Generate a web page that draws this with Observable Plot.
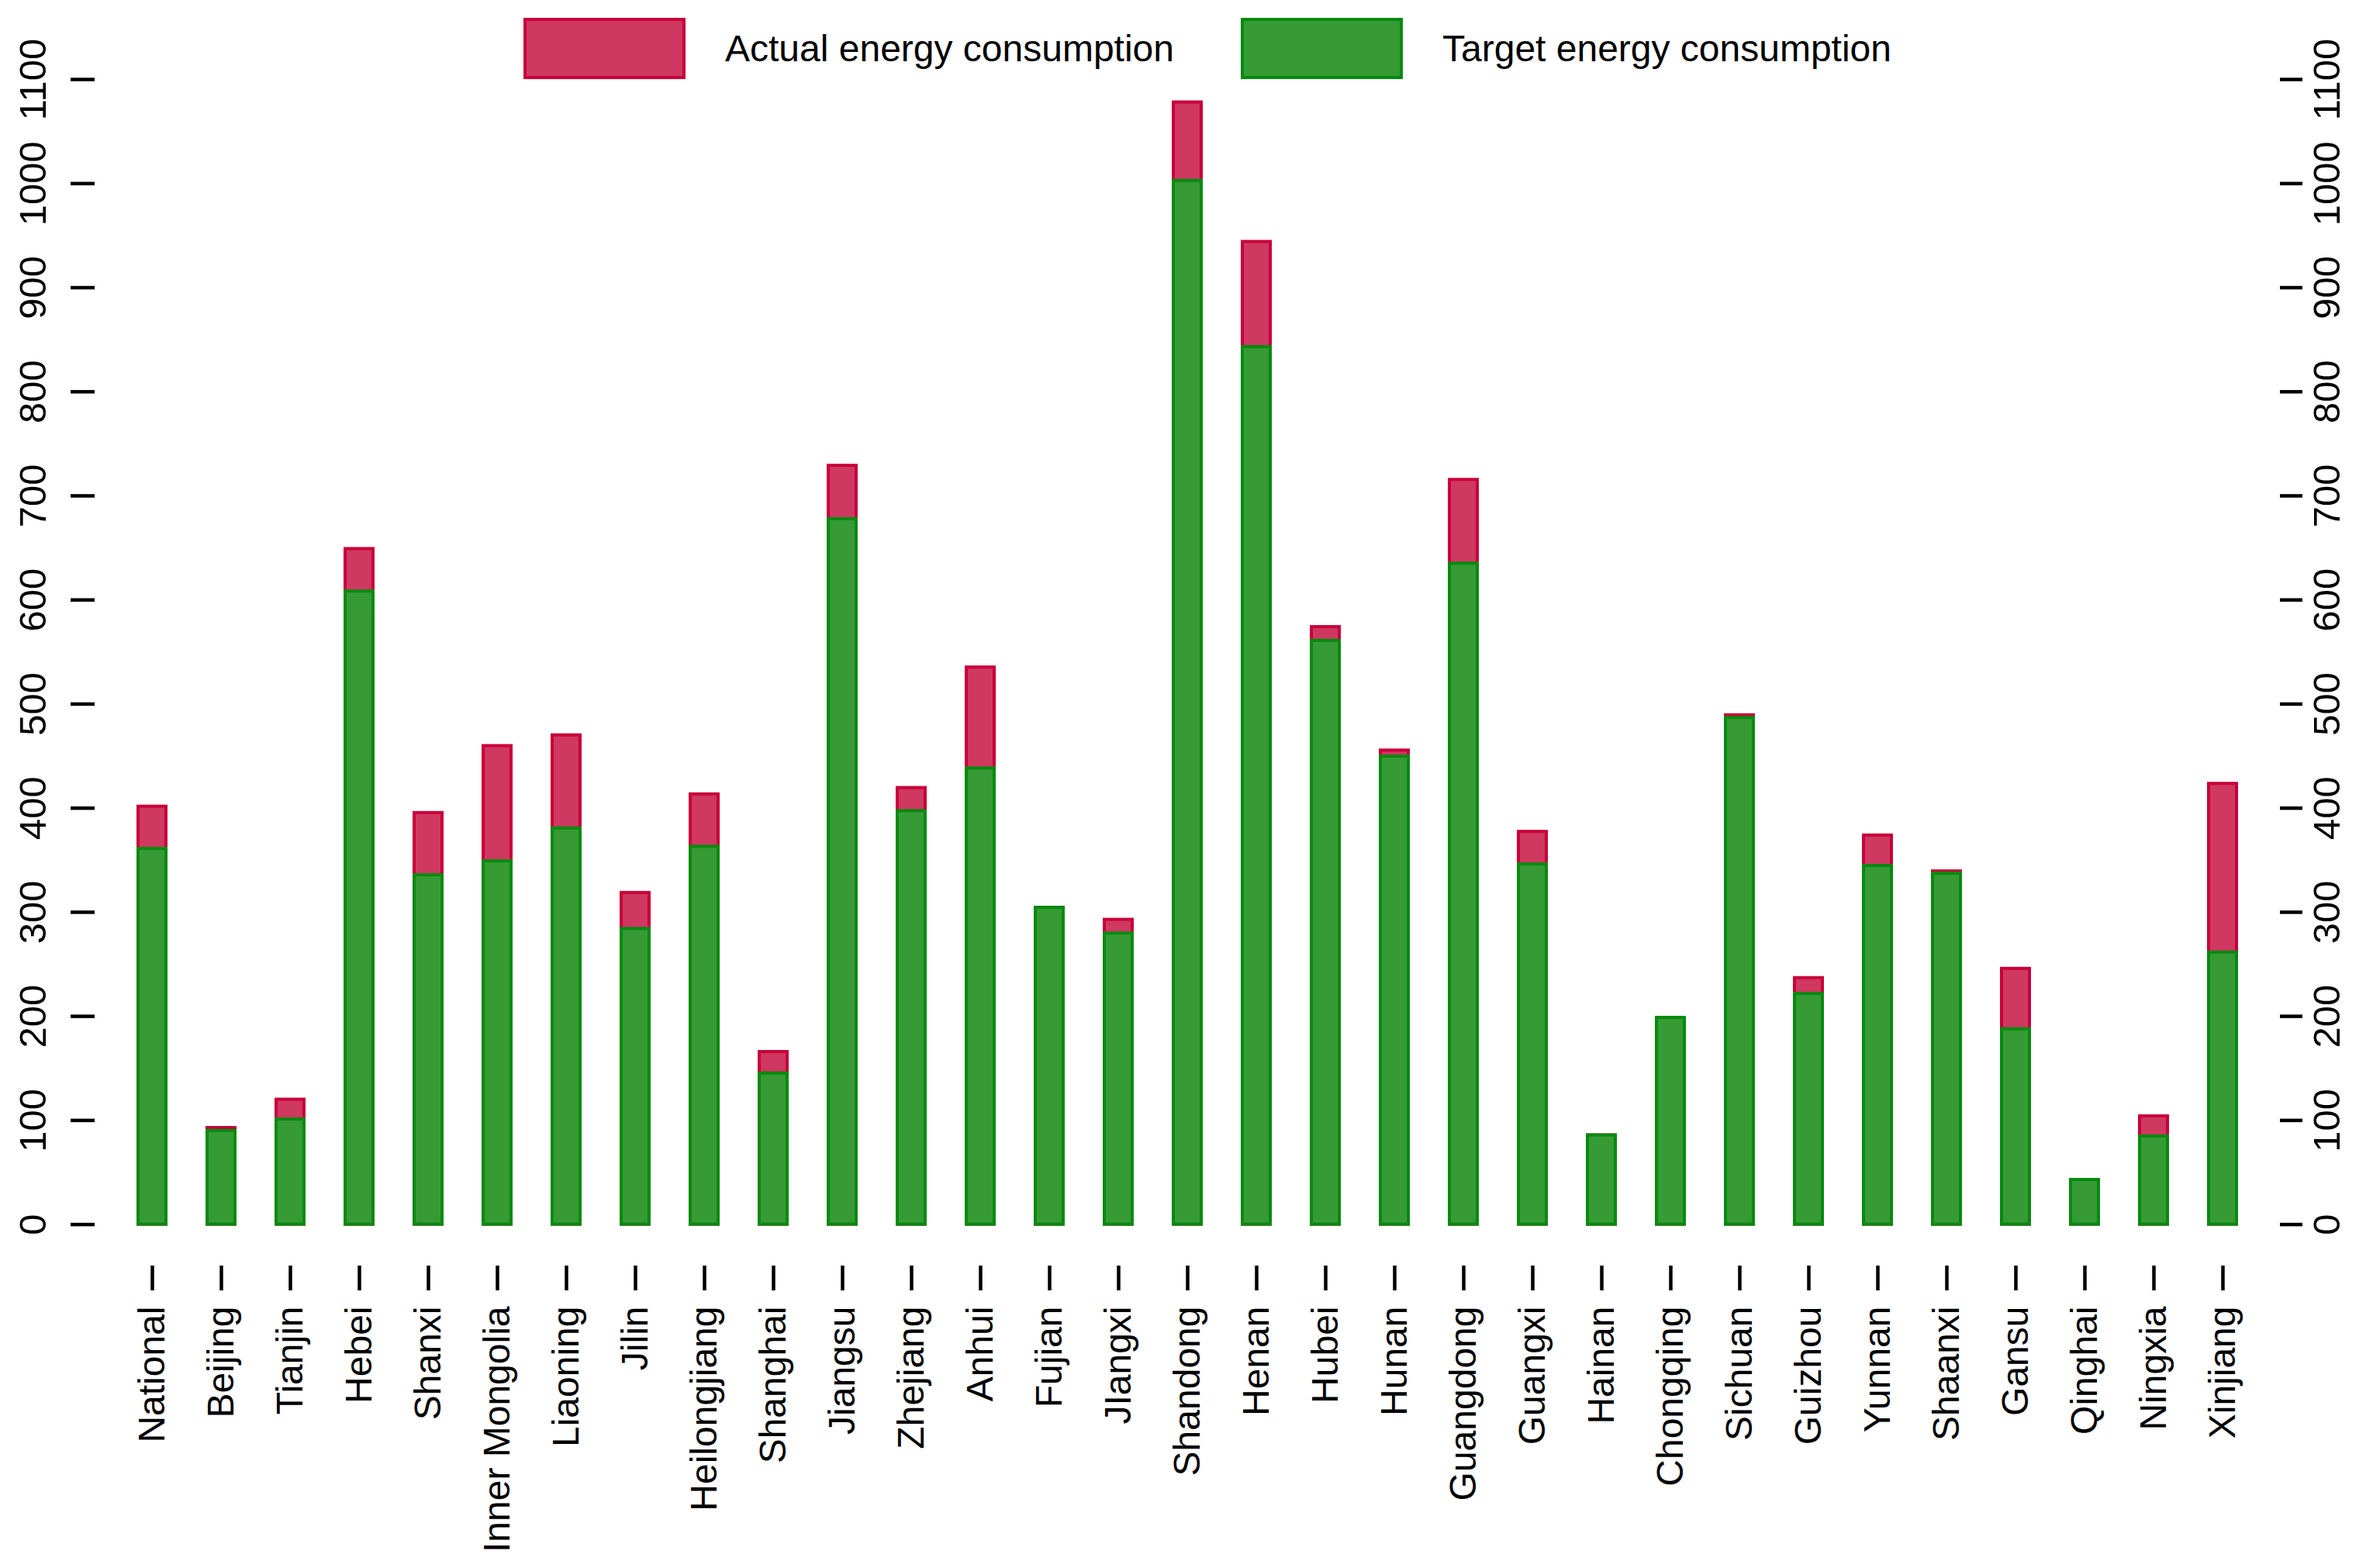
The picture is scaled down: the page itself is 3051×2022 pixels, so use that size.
<!DOCTYPE html>
<html>
<head>
<meta charset="utf-8">
<script src="https://cdn.jsdelivr.net/npm/d3@7"></script>
<script src="https://cdn.jsdelivr.net/npm/@observablehq/plot@0.6"></script>
<style>
  html, body { margin: 0; padding: 0; background: #fff; }
  #wrap { position: relative; width: 3051px; height: 2022px; font-family: "Liberation Sans", Arial, Helvetica, sans-serif; }
  .item { position: absolute; top: 23px; height: 79px; display: flex; align-items: center; font-size: 48px; color: #000; }
  .sw { width: 201px; height: 71px; margin-right: 51px; box-sizing: content-box; }
  #wrap svg { position: absolute; left: 0; top: 0; }
</style>
</head>
<body>
<div id="wrap"></div>
<script>
const categories = ["National","Beijing","Tianjin","Hebei","Shanxi","Inner Mongolia","Liaoning","Jilin","Heilongjiang","Shanghai","Jiangsu","Zhejiang","Anhui","Fujian","JIangxi","Shandong","Henan","Hubei","Hunan","Guangdong","Guangxi","Hainan","Chongqing","Sichuan","Guizhou","Yunnan","Shaanxi","Gansu","Qinghai","Ningxia","Xinjiang"];
const actual = [401.5, 92.8, 120, 649, 395.4, 459.7, 470, 318.6, 413.3, 165.8, 729, 419.4, 535.2, 304.3, 292.8, 1078, 944, 574, 455.4, 715.4, 377.3, 85.7, 198.6, 489.3, 236.8, 373.8, 339.3, 245.7, 42.9, 104, 423.4];
const target = [361, 90, 101, 608.3, 335.7, 349, 380.6, 284, 363, 145.2, 677.7, 397.2, 438.2, 304.3, 279.7, 1002.7, 843, 560.8, 449.6, 635, 346, 85.7, 198.6, 486.7, 221.6, 344.5, 337.2, 187.7, 42.9, 84.7, 261.4];
const yTicks = [0,100,200,300,400,500,600,700,800,900,1000,1100];
const seriesNames = ["Actual energy consumption", "Target energy consumption"];

const redFill = "#CF3860", redStroke = "#C8003A";
const greenFill = "#369A35", greenStroke = "#078A10";

const rows = categories.map((c, i) => ({category: c, actual: actual[i], target: target[i]}));
const noText = () => "";
const plain = d => String(d);

const chart = Plot.plot({
  width: 3051,
  height: 2022,
  marginLeft: 122,
  marginRight: 112,
  marginTop: 102,
  marginBottom: 390,
  style: {fontFamily: '"Liberation Sans", Arial, Helvetica, sans-serif', fontSize: "48px", background: "transparent"},
  x: {domain: categories, padding: 0.6, label: null, axis: null},
  y: {domain: [-39.8, 1100], label: null, axis: null},
  marks: [
    Plot.barY(rows, {x: "category", y1: 0, y2: "actual", fill: redFill, stroke: redStroke, strokeWidth: 4}),
    Plot.barY(rows, {x: "category", y1: 0, y2: "target", fill: greenFill, stroke: greenStroke, strokeWidth: 4}),
    // y axis ticks (left and right)
    Plot.axisY(yTicks, {anchor: "left", tickSize: 31, tickFormat: noText, strokeWidth: 4.5, label: null}),
    Plot.axisY(yTicks, {anchor: "right", tickSize: 29, tickFormat: noText, strokeWidth: 4.5, label: null}),
    // y axis labels, rotated
    Plot.axisY(yTicks, {anchor: "left", tickSize: 0, tickPadding: 79, rotate: -90, textAnchor: "middle", lineAnchor: "middle", tickFormat: plain, fill: "#000", fontSize: 49, label: null}),
    Plot.axisY(yTicks, {anchor: "right", tickSize: 0, tickPadding: 62, rotate: -90, textAnchor: "middle", lineAnchor: "middle", tickFormat: plain, fill: "#000", fontSize: 49, label: null}),
    // x axis ticks and rotated labels
    Plot.axisX(categories, {anchor: "bottom", tickSize: 32, tickFormat: noText, strokeWidth: 4.5, label: null}),
    Plot.axisX(categories, {anchor: "bottom", tickSize: 0, tickPadding: 52, rotate: -90, textAnchor: "end", lineAnchor: "middle", fill: "#000", fontSize: 48, label: null})
  ]
});

const wrap = document.getElementById("wrap");
wrap.appendChild(chart);

const legendItems = [
  {name: seriesNames[0], fill: redFill, stroke: redStroke, left: 675},
  {name: seriesNames[1], fill: greenFill, stroke: greenStroke, left: 1600}
];
for (const it of legendItems) {
  const d = document.createElement("div");
  d.className = "item";
  d.style.left = it.left + "px";
  const sw = document.createElement("div");
  sw.className = "sw";
  sw.style.background = it.fill;
  sw.style.border = "4px solid " + it.stroke;
  const t = document.createElement("span");
  t.textContent = it.name;
  d.appendChild(sw);
  d.appendChild(t);
  wrap.appendChild(d);
}
</script>
</body>
</html>
